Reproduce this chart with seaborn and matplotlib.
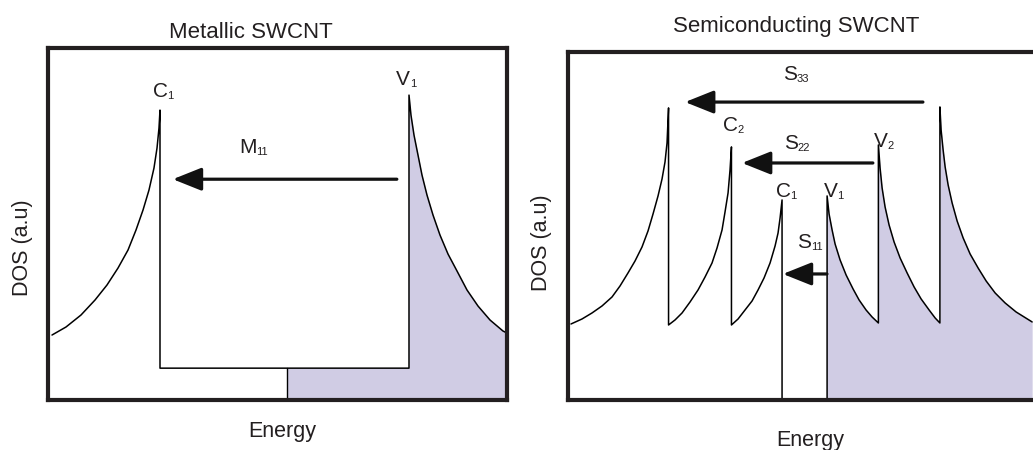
import matplotlib
matplotlib.use("Agg")
import matplotlib.pyplot as plt
import pandas as pd
import seaborn as sns

# ---------------- data (energy and DOS in arbitrary units) ----------------
# Metallic tube: C1 van Hove branch, flat DOS plateau, V1 branch
metal_c1_energy = [0.87, 3.92, 7.19, 10.24, 12.85, 15.25, 17.43, 19.17, 20.70,
                   22.00, 23.09, 23.75, 24.18, 24.40]
metal_c1_dos = [18.57, 20.86, 24.29, 28.57, 32.86, 37.71, 42.86, 48.57, 54.29,
                60.0, 66.29, 72.0, 77.71, 82.86]
metal_plateau_dos = 9.1
metal_v1_energy = [78.65, 79.08, 79.74, 80.61, 81.48, 82.57, 83.88, 85.40, 87.15,
                   89.11, 91.29, 93.68, 96.30, 99.13, 100.0]
metal_v1_dos = [87.14, 81.43, 75.71, 70.0, 64.29, 58.57, 52.86, 47.14, 41.71,
                36.86, 31.43, 26.86, 22.86, 19.71, 19.14]
metal_fermi = 52.1

# Semiconducting tube: conduction (C3, C2, C1) and valence (V1, V2, V3) branches
semi_c3_energy = [0.65, 3.05, 5.23, 7.41, 9.59, 11.33, 13.07, 14.60, 16.12,
                  17.43, 18.52, 19.61, 20.48, 21.13, 21.57, 21.9]
semi_c3_dos = [21.71, 23.14, 24.86, 26.86, 29.43, 32.57, 36.29, 39.71, 43.71,
               48.29, 53.14, 58.29, 63.14, 68.0, 73.43, 83.43]
semi_c2_energy = [21.9, 23.31, 24.84, 26.58, 28.32, 29.85, 31.37, 32.46, 33.55,
                  34.20, 34.86, 35.29, 35.6]
semi_c2_dos = [21.43, 22.86, 24.86, 28.0, 31.43, 35.14, 39.14, 43.43, 48.57,
               53.71, 59.14, 65.71, 72.29]
semi_c1_energy = [35.6, 37.04, 38.56, 40.09, 41.39, 42.70, 44.01, 45.10, 45.75,
                  46.19, 46.62]
semi_c1_dos = [21.43, 23.14, 25.71, 28.29, 31.43, 34.86, 39.14, 44.0, 47.71,
               52.0, 57.14]
semi_gap_energy = [46.62, 56.43]
semi_v1_energy = [56.43, 56.43, 56.86, 57.52, 58.17, 59.26, 60.57, 62.09, 63.40,
                  64.92, 66.23, 67.6]
semi_v1_dos = [0.0, 58.29, 53.14, 48.57, 44.57, 40.0, 35.71, 31.71, 28.57,
               25.71, 23.71, 22.0]
semi_v2_energy = [67.6, 67.97, 68.41, 69.06, 69.93, 71.02, 72.33, 73.86, 75.38,
                  76.91, 78.65, 79.96, 81.0]
semi_v2_dos = [72.86, 66.29, 60.57, 55.14, 50.0, 45.14, 40.57, 36.29, 32.29,
               28.86, 25.71, 23.43, 22.0]
semi_v3_energy = [81.0, 81.26, 81.70, 82.14, 82.79, 83.66, 84.75, 86.06, 87.58,
                  89.32, 91.07, 93.03, 95.21, 97.60, 101.09]
semi_v3_dos = [83.71, 77.14, 71.43, 66.57, 61.43, 56.29, 51.14, 46.29, 41.71,
               37.71, 34.0, 30.57, 27.71, 25.14, 22.29]

# Optical transitions: (letter, index, from-energy, to-energy, height)
metal_transitions = [("M", "11", 76.0, 27.2, 63.1)]
semi_transitions = [
    ("S", "33", 77.3, 25.5, 85.1),
    ("S", "22", 66.4, 37.9, 67.7),
    ("S", "11", 56.4, 46.8, 36.0),
]

# ---------------- style ----------------
sns.set_theme(style="white")
plt.rcParams["font.family"] = ["Liberation Sans", "DejaVu Sans"]
INK = "#231f20"
FILL = "#d0cce4"

W, H = 1033, 450
fig = plt.figure(figsize=(W / 100, H / 100), dpi=100)


def px_axes(x0, y0, x1, y1):
    return fig.add_axes([x0 / W, 1 - y1 / H, (x1 - x0) / W, (y1 - y0) / H])


ax_m = px_axes(48, 48, 507, 400)
ax_s = px_axes(568, 52, 1040, 400)

for ax, ytop, xr in ((ax_m, 100.6, 100.0), (ax_s, 99.4, 102.8)):
    ax.set_xlim(0, xr)
    ax.set_ylim(0, ytop)
    ax.set_xticks([])
    ax.set_yticks([])
    for sp in ax.spines.values():
        sp.set_visible(True)
        sp.set_linewidth(3.0)
        sp.set_color(INK)
    ax.set_facecolor("white")


def trace(ax, xs, ys, lw=1.1):
    df = pd.DataFrame({"energy": xs, "dos": ys})
    sns.lineplot(data=df, x="energy", y="dos", sort=False, estimator=None,
                 color="black", lw=lw, ax=ax, solid_joinstyle="round")
    ax.set_xlabel("")
    ax.set_ylabel("")


def label(ax, x, y, main, sub, size=15, subsize=8):
    t = ax.text(x, y, main, ha="center", va="baseline", fontsize=size,
                color=INK, zorder=6)
    ax.annotate(sub, xy=(1, 0), xycoords=t, xytext=(-0.3, 1.3),
                textcoords="offset points", ha="left", va="baseline",
                fontsize=subsize, color=INK, zorder=6)


def arrow(ax, x_from, x_to, y):
    ax.annotate("", xy=(x_to, y), xytext=(x_from, y),
                arrowprops=dict(arrowstyle="-|>,head_length=0.55,head_width=0.22",
                                mutation_scale=32, lw=2.3, color="#111111",
                                shrinkA=0, shrinkB=0),
                zorder=5)


# ---------------- metallic panel ----------------
m_fill_x = [metal_fermi, metal_v1_energy[0]] + metal_v1_energy
m_fill_y = [metal_plateau_dos, metal_plateau_dos] + metal_v1_dos
ax_m.fill_between(m_fill_x, m_fill_y, 0, color=FILL, lw=0, zorder=1)

m_x = metal_c1_energy + [metal_c1_energy[-1], metal_v1_energy[0]] + metal_v1_energy
m_y = metal_c1_dos + [metal_plateau_dos, metal_plateau_dos] + metal_v1_dos
trace(ax_m, m_x, m_y)
trace(ax_m, [metal_fermi, metal_fermi], [0, metal_plateau_dos], lw=1.0)

for main, sub, xf, xt, y in metal_transitions:
    arrow(ax_m, xf, xt, y)
label(ax_m, 43.5, 70.6, "M", "11")
label(ax_m, 24.5, 86.6, "C", "1")
label(ax_m, 77.4, 90.0, "V", "1")

# ---------------- semiconducting panel ----------------
s_val_x = semi_v1_energy + semi_v2_energy + semi_v3_energy
s_val_y = semi_v1_dos + semi_v2_dos + semi_v3_dos
ax_s.fill_between(s_val_x, s_val_y, 0, color=FILL, lw=0, zorder=1)

s_x = (semi_c3_energy + semi_c2_energy + semi_c1_energy
       + [semi_c1_energy[-1], semi_gap_energy[1]] + s_val_x)
s_y = (semi_c3_dos + semi_c2_dos + semi_c1_dos + [0.0, 0.0] + s_val_y)
trace(ax_s, s_x, s_y)

for main, sub, xf, xt, y in semi_transitions:
    arrow(ax_s, xf, xt, y)
label(ax_s, 48.3, 91.4, "S", "33")
label(ax_s, 48.5, 71.7, "S", "22")
label(ax_s, 51.5, 43.4, "S", "11")
label(ax_s, 35.3, 76.9, "C", "2")
label(ax_s, 68.2, 72.3, "V", "2")
label(ax_s, 46.9, 58.0, "C", "1")
label(ax_s, 57.2, 58.0, "V", "1")


# ---------------- titles and axis labels ----------------
def ftext(x, y, s, **kw):
    fig.text(x / W, 1 - y / H, s, color=INK, **kw)


ftext(251, 38, "Metallic SWCNT", ha="center", va="baseline", fontsize=16)
ftext(796, 32, "Semiconducting SWCNT", ha="center", va="baseline", fontsize=16)
ftext(282, 437, "Energy", ha="center", va="baseline", fontsize=15.5)
ftext(810, 446, "Energy", ha="center", va="baseline", fontsize=15.5)
ftext(22.5, 248, "DOS (a.u)", ha="center", va="center", rotation=90, fontsize=15.5)
ftext(541, 243, "DOS (a.u)", ha="center", va="center", rotation=90, fontsize=15.5)

fig.savefig("out.png", dpi=100, facecolor="white")
